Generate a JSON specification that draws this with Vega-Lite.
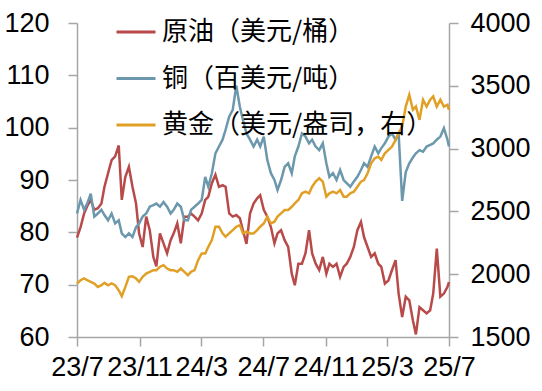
{
"$schema": "https://vega.github.io/schema/vega-lite/v6.json",
"width": 372, "height": 314,
"autosize": {"type": "none"},
"padding": {"left": 77, "top": 23, "right": 93, "bottom": 54},
"background": "white",
"config": {
  "view": {"stroke": null},
  "axis": {"domainColor": "#A6A6A6", "tickColor": "#A6A6A6", "domainWidth": 1.5, "tickWidth": 1.5, "tickSize": 9, "labelFont": "Liberation Sans", "labelFontSize": 27, "labelColor": "#000000", "grid": false, "title": null},
  "legend": {"orient": "none", "legendX": 38, "legendY": -12, "symbolType": "stroke", "symbolSize": 1521, "symbolStrokeWidth": 3, "labelFont": "Noto Sans CJK SC", "labelFontSize": 26, "labelColor": "#000000", "rowPadding": 12.5, "labelOffset": 5, "padding": 0, "labelLimit": 400}
},
"data": {"values": [
{"d":"2023/07/01","oil":79,"cu":83.6,"au":1926},
{"d":"2023/07/08","oil":81,"cu":86.2,"au":1952},
{"d":"2023/07/15","oil":83.6,"cu":84.3,"au":1966},
{"d":"2023/07/21","oil":85,"cu":85.5,"au":1952},
{"d":"2023/07/28","oil":86.2,"cu":87.4,"au":1939},
{"d":"2023/08/04","oil":84.3,"cu":83,"au":1926},
{"d":"2023/08/11","oil":84.6,"cu":83.6,"au":1899},
{"d":"2023/08/18","oil":85.5,"cu":84.3,"au":1912},
{"d":"2023/08/24","oil":88.7,"cu":83.3,"au":1931},
{"d":"2023/08/31","oil":91.3,"cu":82.3,"au":1912},
{"d":"2023/09/07","oil":93.8,"cu":83.6,"au":1926},
{"d":"2023/09/14","oil":94.5,"cu":81.7,"au":1912},
{"d":"2023/09/21","oil":96.6,"cu":82.3,"au":1872},
{"d":"2023/09/27","oil":86.2,"cu":79.8,"au":1825},
{"d":"2023/10/04","oil":90.6,"cu":79.1,"au":1899},
{"d":"2023/10/11","oil":92.5,"cu":79.8,"au":1979},
{"d":"2023/10/18","oil":88.7,"cu":79.1,"au":1984},
{"d":"2023/10/25","oil":85.5,"cu":81,"au":1966},
{"d":"2023/10/31","oil":79.8,"cu":81.7,"au":1939},
{"d":"2023/11/07","oil":77.2,"cu":83,"au":1979},
{"d":"2023/11/14","oil":83,"cu":83.6,"au":2005},
{"d":"2023/11/21","oil":80.4,"cu":84.9,"au":2019},
{"d":"2023/11/28","oil":75.3,"cu":85.2,"au":2032},
{"d":"2023/12/04","oil":73.5,"cu":85.5,"au":2032},
{"d":"2023/12/11","oil":79.8,"cu":84.9,"au":2059},
{"d":"2023/12/18","oil":77.9,"cu":85.8,"au":2072},
{"d":"2023/12/25","oil":76,"cu":84.9,"au":2045},
{"d":"2024/01/01","oil":78.5,"cu":83.6,"au":2032},
{"d":"2024/01/07","oil":79.8,"cu":84.3,"au":2032},
{"d":"2024/01/14","oil":81.7,"cu":85.5,"au":2019},
{"d":"2024/01/21","oil":77.9,"cu":84.9,"au":2045},
{"d":"2024/01/28","oil":83,"cu":82.3,"au":2019},
{"d":"2024/02/04","oil":83,"cu":82.3,"au":1992},
{"d":"2024/02/10","oil":83.6,"cu":84.3,"au":2019},
{"d":"2024/02/17","oil":83,"cu":84.9,"au":2032},
{"d":"2024/02/24","oil":82.3,"cu":85.5,"au":2112},
{"d":"2024/03/02","oil":83.6,"cu":86.2,"au":2165},
{"d":"2024/03/09","oil":86.2,"cu":90.6,"au":2165},
{"d":"2024/03/15","oil":86.8,"cu":88.7,"au":2218},
{"d":"2024/03/22","oil":89.4,"cu":91.3,"au":2271},
{"d":"2024/03/29","oil":91,"cu":95.1,"au":2378},
{"d":"2024/04/05","oil":88.7,"cu":96.4,"au":2378},
{"d":"2024/04/12","oil":89,"cu":97.7,"au":2325},
{"d":"2024/04/18","oil":88.7,"cu":99.6,"au":2298},
{"d":"2024/04/25","oil":83.6,"cu":102.1,"au":2325},
{"d":"2024/05/02","oil":83,"cu":103.4,"au":2351},
{"d":"2024/05/09","oil":83.3,"cu":108,"au":2378},
{"d":"2024/05/16","oil":82.7,"cu":104,"au":2391},
{"d":"2024/05/22","oil":80.4,"cu":101.5,"au":2325},
{"d":"2024/05/29","oil":77.8,"cu":98.9,"au":2338},
{"d":"2024/06/05","oil":83.6,"cu":97.7,"au":2325},
{"d":"2024/06/12","oil":85.5,"cu":96.4,"au":2325},
{"d":"2024/06/19","oil":86.5,"cu":97.7,"au":2351},
{"d":"2024/06/25","oil":87.1,"cu":96.4,"au":2378},
{"d":"2024/07/02","oil":84.3,"cu":98.3,"au":2404},
{"d":"2024/07/09","oil":83,"cu":93.8,"au":2458},
{"d":"2024/07/16","oil":81,"cu":91.3,"au":2404},
{"d":"2024/07/23","oil":77.9,"cu":90,"au":2418},
{"d":"2024/07/29","oil":79.8,"cu":88.1,"au":2458},
{"d":"2024/08/05","oil":80.4,"cu":90,"au":2484},
{"d":"2024/08/12","oil":78.5,"cu":92.5,"au":2511},
{"d":"2024/08/19","oil":77.2,"cu":93.2,"au":2511},
{"d":"2024/08/26","oil":72.1,"cu":91.3,"au":2537},
{"d":"2024/09/01","oil":69.9,"cu":94.5,"au":2564},
{"d":"2024/09/08","oil":74,"cu":96.4,"au":2591},
{"d":"2024/09/15","oil":74,"cu":98.9,"au":2644},
{"d":"2024/09/22","oil":76,"cu":98.3,"au":2657},
{"d":"2024/09/29","oil":80.4,"cu":97,"au":2644},
{"d":"2024/10/05","oil":76,"cu":97.7,"au":2697},
{"d":"2024/10/12","oil":74,"cu":96.4,"au":2737},
{"d":"2024/10/19","oil":72.8,"cu":95.7,"au":2764},
{"d":"2024/10/26","oil":75.3,"cu":97,"au":2737},
{"d":"2024/11/02","oil":72.1,"cu":93.2,"au":2617},
{"d":"2024/11/08","oil":74,"cu":90.6,"au":2644},
{"d":"2024/11/15","oil":73.4,"cu":91.3,"au":2657},
{"d":"2024/11/22","oil":74,"cu":90,"au":2644},
{"d":"2024/11/29","oil":71.5,"cu":91.9,"au":2670},
{"d":"2024/12/06","oil":73.4,"cu":90,"au":2617},
{"d":"2024/12/12","oil":74,"cu":89.4,"au":2617},
{"d":"2024/12/19","oil":75.3,"cu":88.7,"au":2644},
{"d":"2024/12/26","oil":77.2,"cu":89.7,"au":2657},
{"d":"2025/01/02","oil":80.4,"cu":90.6,"au":2697},
{"d":"2025/01/09","oil":82,"cu":91.9,"au":2737},
{"d":"2025/01/15","oil":79.1,"cu":93.2,"au":2750},
{"d":"2025/01/22","oil":77.2,"cu":92.5,"au":2803},
{"d":"2025/01/29","oil":75.3,"cu":94.5,"au":2883},
{"d":"2025/02/05","oil":76,"cu":96.4,"au":2923},
{"d":"2025/02/12","oil":74,"cu":95.1,"au":2936},
{"d":"2025/02/18","oil":73.4,"cu":96.1,"au":2910},
{"d":"2025/02/25","oil":70.2,"cu":97,"au":2963},
{"d":"2025/03/04","oil":70.8,"cu":98.3,"au":2990},
{"d":"2025/03/11","oil":72.8,"cu":98.9,"au":3016},
{"d":"2025/03/18","oil":74.7,"cu":97.7,"au":3069},
{"d":"2025/03/24","oil":68.3,"cu":98.9,"au":3123},
{"d":"2025/03/31","oil":63.8,"cu":86,"au":3176},
{"d":"2025/04/07","oil":67.7,"cu":91.5,"au":3335},
{"d":"2025/04/14","oil":67,"cu":93.2,"au":3429},
{"d":"2025/04/21","oil":63.2,"cu":94.3,"au":3309},
{"d":"2025/04/27","oil":60.5,"cu":95.1,"au":3335},
{"d":"2025/05/04","oil":65.7,"cu":95.7,"au":3229},
{"d":"2025/05/11","oil":65.1,"cu":95.4,"au":3389},
{"d":"2025/05/18","oil":64.5,"cu":96.4,"au":3335},
{"d":"2025/05/25","oil":65.1,"cu":96.7,"au":3389},
{"d":"2025/05/31","oil":68.3,"cu":97,"au":3415},
{"d":"2025/06/07","oil":76.9,"cu":97.7,"au":3335},
{"d":"2025/06/14","oil":67.7,"cu":98.3,"au":3389},
{"d":"2025/06/21","oil":68.3,"cu":99.9,"au":3335},
{"d":"2025/06/28","oil":69.6,"cu":97.7,"au":3349},
{"d":"2025/07/01","oil":70.5,"cu":96.4,"au":3309}
]},
"layer": [
  {"layer": [
    {"mark": {"type": "line", "strokeWidth": 2.5},
     "encoding": {
       "x": {"field": "d", "type": "temporal", "scale": {"domain": [{"year": 2023, "month": 7, "date": 1}, {"year": 2025, "month": 7, "date": 1}]}, "axis": {"values": [{"year": 2023, "month": 7, "date": 1}, {"year": 2023, "month": 11, "date": 1}, {"year": 2024, "month": 3, "date": 1}, {"year": 2024, "month": 7, "date": 1}, {"year": 2024, "month": 11, "date": 1}, {"year": 2025, "month": 3, "date": 1}, {"year": 2025, "month": 7, "date": 1}], "format": "%y/%-m", "labelOverlap": false, "labelFlush": false, "labelBound": false, "labelPadding": 8, "title": null}},
       "y": {"field": "oil", "type": "quantitative", "scale": {"domain": [60, 120], "nice": false, "zero": false}, "axis": {"orient": "left", "values": [60, 70, 80, 90, 100, 110, 120], "format": "d", "labelPadding": 19, "title": null}},
       "color": {"datum": "原油（美元/桶）", "type": "nominal", "scale": {"domain": ["原油（美元/桶）", "铜（百美元/吨）", "黄金（美元/盎司，右）"], "range": ["#B84A4A", "#6B98AC", "#E0A026"]}, "legend": {"title": null}}
     }},
    {"mark": {"type": "line", "strokeWidth": 2.5},
     "encoding": {
       "x": {"field": "d", "type": "temporal"},
       "y": {"field": "cu", "type": "quantitative"},
       "color": {"datum": "铜（百美元/吨）", "type": "nominal"}
     }}
  ]},
  {"mark": {"type": "line", "strokeWidth": 2.5},
   "encoding": {
     "x": {"field": "d", "type": "temporal"},
     "y": {"field": "au", "type": "quantitative", "scale": {"domain": [1500, 4000], "nice": false, "zero": false}, "axis": {"orient": "right", "values": [1500, 2000, 2500, 3000, 3500, 4000], "format": "d", "labelPadding": 12, "title": null}},
     "color": {"datum": "黄金（美元/盎司，右）", "type": "nominal"}
   }}
],
"resolve": {"scale": {"y": "independent"}}
}
